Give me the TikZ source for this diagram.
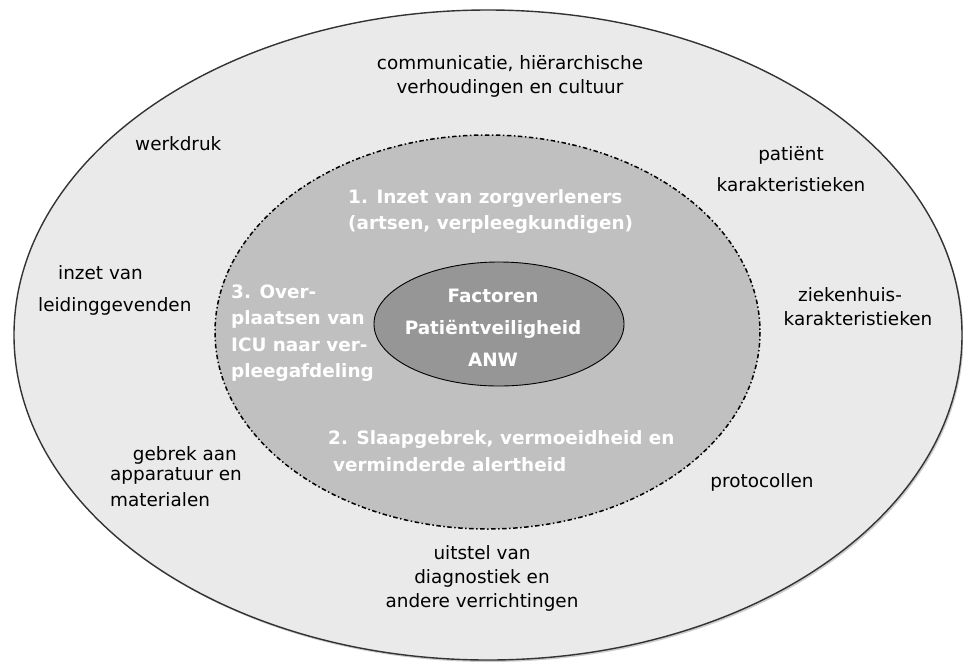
\documentclass[tikz,border=0pt]{standalone}
\usepackage{fontspec}
\setmainfont{DejaVu Sans}
\definecolor{outerfill}{HTML}{EAEAEA}
\definecolor{midfill}{HTML}{C0C0C0}
\definecolor{innerfill}{HTML}{969696}
\definecolor{rimcol}{HTML}{333333}
\begin{document}
\begin{tikzpicture}[x=1pt,y=-1pt,
  lbl/.style={inner sep=0pt, text=black, font=\fontsize{18.4}{22}\selectfont},
  wlbl/.style={inner sep=0pt, text=white, font=\fontsize{18.4}{22}\selectfont\bfseries}]
\useasboundingbox (0,0) rectangle (963,662);
% outer ellipse with shadow
\fill[gray!40] (489.5,337) ellipse [x radius=474, y radius=325];
\draw[fill=outerfill, draw=rimcol, line width=1.4pt] (488,335) ellipse [x radius=474, y radius=325];
% middle ellipse
\draw[fill=midfill, draw=black, line width=1.5pt, dash pattern=on 4.5pt off 2.5pt on 1.5pt off 2.5pt] (487.5,332) ellipse [x radius=272.5, y radius=197];
% inner ellipse
\draw[fill=innerfill, draw=black, line width=0.9pt] (499,324) ellipse [x radius=125, y radius=62];

% inner texts
\node[wlbl, anchor=base] (f1) at (493,302) {Factoren};
\node[wlbl, anchor=base] (f2) at (493,334) {Patiëntveiligheid};
\node[wlbl, anchor=base] (f3) at (493,366) {ANW};

% middle ring texts
\node[wlbl, anchor=base west] (m1a) at (348,203) {1. Inzet van zorgverleners};
\node[wlbl, anchor=base west] (m1b) at (348,229) {(artsen, verpleegkundigen)};
\node[wlbl, anchor=base west] (m3a) at (231,298) {3. Over-};
\node[wlbl, anchor=base west] (m3b) at (231,324) {plaatsen van};
\node[wlbl, anchor=base west] (m3c) at (231,351) {ICU naar ver-};
\node[wlbl, anchor=base west] (m3d) at (231,377) {pleegafdeling};
\node[wlbl, anchor=base west] (m2a) at (328,444) {2. Slaapgebrek, vermoeidheid en};
\node[wlbl, anchor=base west] (m2b) at (333,471) {verminderde alertheid};

% outer ring texts
\node[lbl, anchor=base] (c1) at (510,69) {communicatie, hiërarchische};
\node[lbl, anchor=base] (c2) at (510,93) {verhoudingen en cultuur};
\node[lbl, anchor=base west] (w1) at (135,150) {werkdruk};
\node[lbl, anchor=base west] (l1) at (58,279) {inzet van};
\node[lbl, anchor=base west] (l2) at (38,311) {leidinggevenden};
\node[lbl, anchor=base east] (g1) at (237,460) {gebrek aan};
\node[lbl, anchor=base west] (g2) at (110,480) {apparatuur en};
\node[lbl, anchor=base west] (g3) at (110,506) {materialen};
\node[lbl, anchor=base] (p1) at (791,160) {patiënt};
\node[lbl, anchor=base] (p2) at (791,191) {karakteristieken};
\node[lbl, anchor=base] (z1) at (850,301) {ziekenhuis-};
\node[lbl, anchor=base] (z2) at (858,325) {karakteristieken};
\node[lbl, anchor=base] (pr) at (762,487) {protocollen};
\node[lbl, anchor=base] (u1) at (482,559) {uitstel van};
\node[lbl, anchor=base] (u2) at (482,583) {diagnostiek en};
\node[lbl, anchor=base] (u3) at (482,607) {andere verrichtingen};
\end{tikzpicture}
\end{document}
